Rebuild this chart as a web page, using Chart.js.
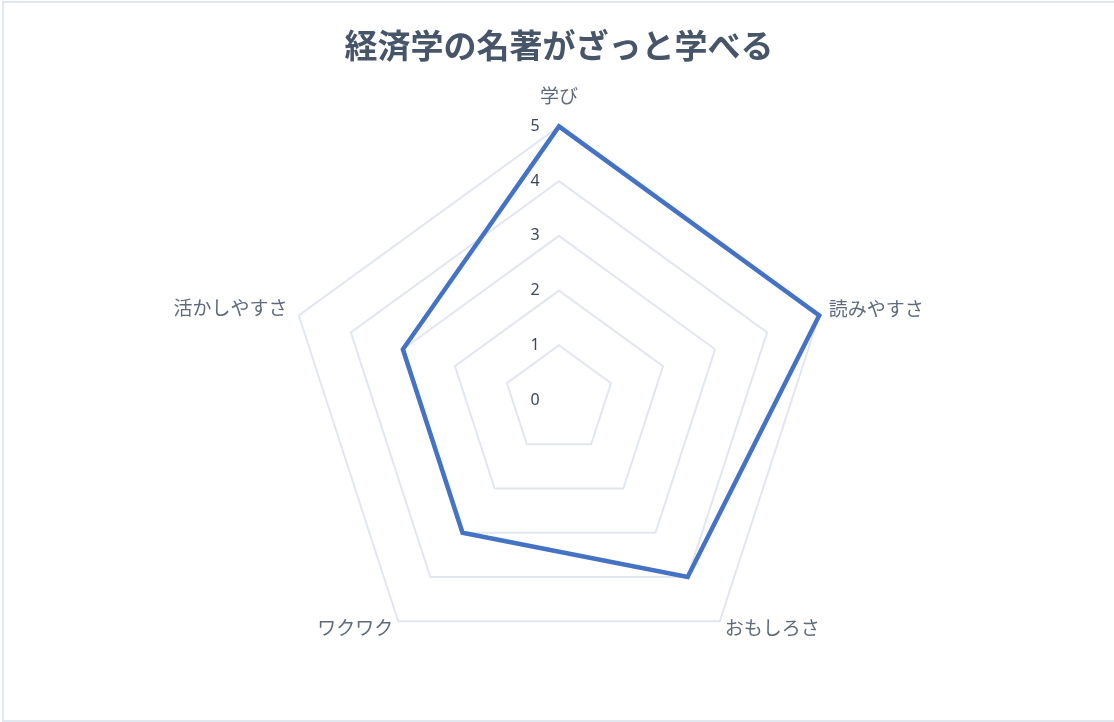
<!DOCTYPE html>
<html lang="ja">
<head>
<meta charset="utf-8">
<title>経済学の名著がざっと学べる</title>
<script src="https://cdn.jsdelivr.net/npm/chart.js@4/dist/chart.umd.min.js"></script>
<style>
  html, body { margin: 0; padding: 0; background: #fff; overflow: hidden; }
  #wrap {
    position: absolute; left: 2px; top: 1px;
    width: 1114px; height: 721px;
    border: 2px solid #e2e8f0; box-sizing: border-box;
  }
</style>
</head>
<body>
<div id="wrap"><canvas id="myChart"></canvas></div>
<script>
const labels = ['学び', '読みやすさ', 'おもしろさ', 'ワクワク', '活かしやすさ'];
const scores = [5, 5, 4, 3, 3];
const chartTitle = '経済学の名著がざっと学べる';

const ch = document.getElementById('myChart').getContext('2d');
const fontFamily = "'Noto Sans', 'Noto Sans CJK JP', sans-serif";

// gap between each axis end and its label (top one sits higher)
const labelGap = [27, 10, 8.5, 8.5, 12];

// tick numbers are drawn a little left of the vertical axis, 0 included
const tickLabels = {
    id: 'tickLabels',
    beforeDatasetsDraw(chart) {
        const r = chart.scales.r;
        const c = chart.ctx;
        c.save();
        c.font = '16px ' + fontFamily;
        c.fillStyle = '#3b4659';
        c.textAlign = 'center';
        c.textBaseline = 'middle';
        r.ticks.forEach(t => {
            const y = r.yCenter - r.getDistanceFromCenterForValue(t.value);
            c.fillText(String(t.value), r.xCenter - 24, y);
        });
        c.restore();
    }
};

const data = {
    labels,
    datasets: [{
        label: chartTitle,
        data: scores,
        fill: false,
        borderColor: '#4472c4',
        borderWidth: 4.5,
        pointRadius: 0,
        pointHoverRadius: 0
    }]
};

const config = {
    type: 'radar',
    data: data,
    plugins: [tickLabels],
    options: {
        responsive: true,
        maintainAspectRatio: false,
        animation: false,
        layout: { padding: { bottom: 31 } },
        plugins: {
            legend: { display: false },
            tooltip: { enabled: false },
            title: {
                display: true,
                text: chartTitle,
                color: '#475569',
                font: { family: fontFamily, size: 33, weight: 'bold' },
                padding: { top: 26, bottom: 12.4 }
            }
        },
        scales: {
            r: {
                min: 0,
                max: 5,
                angleLines: { display: false },
                grid: { color: '#e2e6ee', lineWidth: 2 },
                pointLabels: {
                    color: '#5f6b7c',
                    font: { family: fontFamily, size: 19, lineHeight: 0.18 },
                    padding: (ctx) => labelGap[ctx.index]
                },
                ticks: {
                    stepSize: 1,
                    display: false
                }
            }
        }
    }
};

const myChart = new Chart(ch, config);
</script>
</body>
</html>
